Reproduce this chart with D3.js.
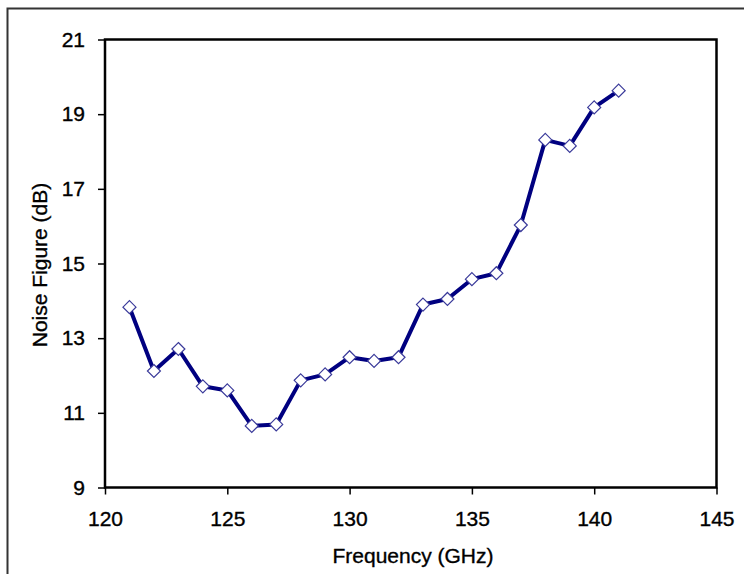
<!DOCTYPE html>
<html lang="en">
<head>
  <meta charset="UTF-8">
  <title>Noise Figure vs Frequency</title>
  <script src="https://d3js.org/d3.v7.min.js"></script>
  <style>
    body {
      margin: 0;
      background: #fff;
    }
    .tick text, .axis-label {
      font-family: "Liberation Sans", Arial, sans-serif;
      font-size: 21px;
      fill: #000;
      stroke: #000;
      stroke-width: 0.35px;
    }
  </style>
</head>
<body>
  <svg id="chart" width="744" height="574"></svg>
  <script>
    // data
    const frequency = [121, 122, 123, 124, 125, 126, 127, 128, 129, 130, 131,
                       132, 133, 134, 135, 136, 137, 138, 139, 140, 141];
    const noiseFigure = [13.83, 12.12, 12.71, 11.71, 11.60, 10.65, 10.69, 11.87, 12.03, 12.49, 12.39,
                         12.49, 13.90, 14.05, 14.58, 14.74, 16.03, 18.31, 18.15, 19.18, 19.63];
    const xTicks = [120, 125, 130, 135, 140, 145];
    const yTicks = [9, 11, 13, 15, 17, 19, 21];

    const margin = { top: 39.5, right: 27.5, bottom: 86.5, left: 105 },
          width = 744 - margin.left - margin.right,
          height = 574 - margin.top - margin.bottom;

    const root = d3.select("#chart");

    // outer frame (runs off the right and bottom edges)
    root.append("path")
      .attr("d", "M7.5,574 V8.5 H744")
      .attr("fill", "none")
      .attr("stroke", "#333")
      .attr("stroke-width", 2);

    const svg = root.append("g")
      .attr("transform", `translate(${margin.left},${margin.top})`);

    const xScale = d3.scaleLinear().domain([120, 145]).range([0, width]);
    const yScale = d3.scaleLinear().domain([9, 21]).range([height, 0]);

    svg.append("rect")
      .attr("width", width)
      .attr("height", height)
      .attr("fill", "none")
      .attr("stroke", "#000")
      .attr("stroke-width", 2.5);

    const xAxis = svg.append("g")
      .attr("transform", `translate(0,${height})`)
      .call(d3.axisBottom(xScale).tickValues(xTicks).tickSize(7).tickPadding(17));
    xAxis.select(".domain").remove();
    xAxis.selectAll(".tick line").attr("stroke-width", 1.5);

    const yAxis = svg.append("g")
      .call(d3.axisLeft(yScale).tickValues(yTicks).tickSize(7).tickPadding(13));
    yAxis.select(".domain").remove();
    yAxis.selectAll(".tick line").attr("stroke-width", 1.5);

    const points = frequency.map((f, i) => ({ f, v: noiseFigure[i] }));

    const line = d3.line()
      .x(d => xScale(d.f))
      .y(d => yScale(d.v));

    svg.append("path")
      .datum(points)
      .attr("d", line)
      .attr("fill", "none")
      .attr("stroke", "#000080")
      .attr("stroke-width", 4)
      .attr("stroke-linejoin", "round");

    svg.selectAll(".marker")
      .data(points)
      .enter()
      .append("path")
      .attr("class", "marker")
      .attr("d", "M0,-6.5 L6.5,0 L0,6.5 L-6.5,0 Z")
      .attr("transform", d => `translate(${xScale(d.f)},${yScale(d.v)})`)
      .attr("fill", "#fff")
      .attr("stroke", "#3a3a9a")
      .attr("stroke-width", 1.2);

    root.append("text")
      .attr("class", "axis-label")
      .attr("x", 413)
      .attr("y", 563)
      .attr("text-anchor", "middle")
      .text("Frequency (GHz)");

    root.append("text")
      .attr("class", "axis-label")
      .attr("transform", "translate(47,265) rotate(-90)")
      .attr("text-anchor", "middle")
      .text("Noise Figure (dB)");
  </script>
</body>
</html>
